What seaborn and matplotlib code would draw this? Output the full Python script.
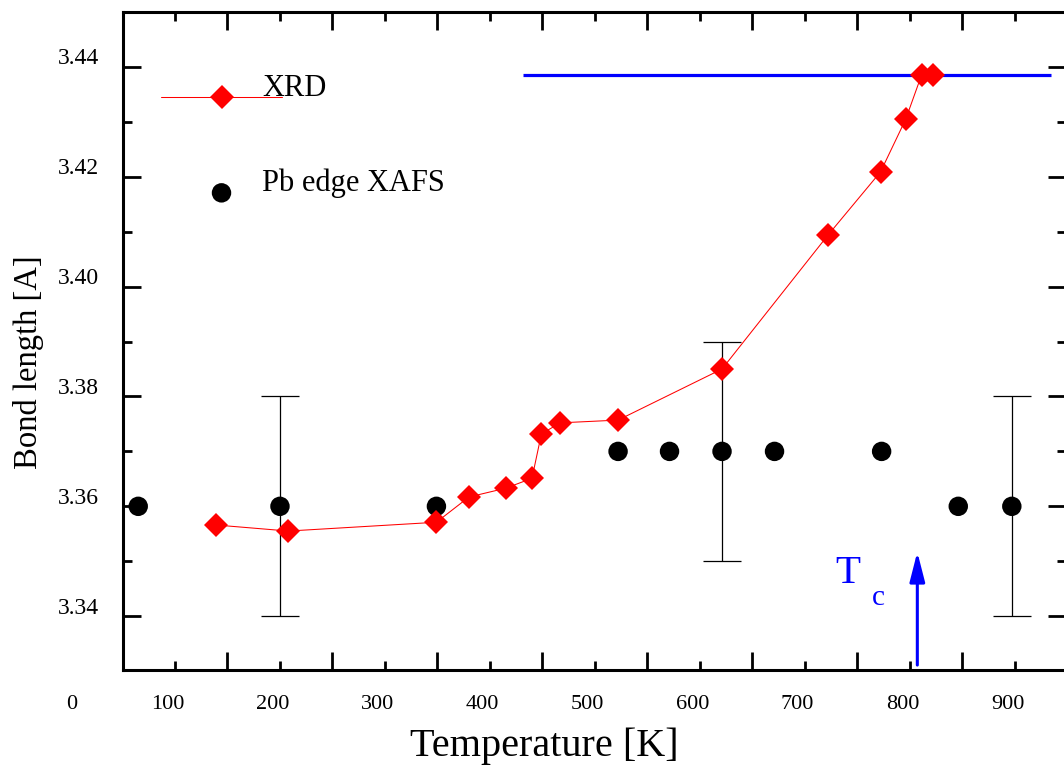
import matplotlib
matplotlib.use("Agg")
import numpy as np
import pandas as pd
import seaborn as sns
import matplotlib.pyplot as plt
from matplotlib.transforms import ScaledTranslation, blended_transform_factory
from matplotlib.legend_handler import HandlerLine2D

# ---------------- data ----------------
xrd_temp = [139, 208, 349, 380, 415, 440, 449, 467, 522, 621, 722, 772, 796, 811, 822]
xrd_bond = [3.3566, 3.3555, 3.3571, 3.3617, 3.3633, 3.3651, 3.3732, 3.3752,
            3.3757, 3.3850, 3.4094, 3.4209, 3.4305, 3.4385, 3.4385]

xafs_temp = [65, 200, 349, 522, 571, 621, 671, 773, 846, 897]
xafs_bond = [3.36, 3.36, 3.36, 3.37, 3.37, 3.37, 3.37, 3.37, 3.36, 3.36]

err_temp = [200, 621, 897]
err_bond = [3.36, 3.37, 3.36]
err_size = [0.02, 0.02, 0.02]

plateau_bond = 3.4385
plateau_start = 431
plateau_end = 934

tc_temp = 807
tc_arrow_bottom = 3.3311
tc_arrow_top = 3.3517

x_label_ticks = [100, 200, 300, 400, 500, 600, 700, 800, 900]
x_long_ticks = [150, 250, 350, 450, 550, 650, 750, 850]
y_major_ticks = [3.34, 3.36, 3.38, 3.40, 3.42, 3.44]
y_minor_ticks = [3.35, 3.37, 3.39, 3.41, 3.43]

xrd_df = pd.DataFrame({"T": xrd_temp, "d": xrd_bond})
xafs_df = pd.DataFrame({"T": xafs_temp, "d": xafs_bond})

# ---------------- style ----------------
sns.set_theme(style="ticks")
plt.rcParams["font.family"] = ["Liberation Serif", "DejaVu Serif"]
for k in ["text.color", "axes.labelcolor", "xtick.color", "ytick.color",
          "axes.edgecolor"]:
    plt.rcParams[k] = "black"

fig = plt.figure(figsize=(10.64, 7.78), dpi=100)
ax = fig.add_axes([123 / 1064, 108 / 778, 943 / 1064, 658 / 778])

RED = "#ff0000"
BLUE = "#0000ff"

# plateau line
ax.hlines(plateau_bond, plateau_start, plateau_end, color=BLUE, lw=2.3, zorder=2)

# error bars
ax.errorbar(err_temp, err_bond, yerr=err_size, fmt="none", ecolor="black",
            elinewidth=0.9, capsize=13.5, capthick=0.9, zorder=2)

# XRD
sns.lineplot(data=xrd_df, x="T", y="d", ax=ax, color=RED, lw=0.75,
             marker="D", markersize=12, markeredgewidth=0, sort=False,
             estimator=None, label="XRD", zorder=4)

# XAFS
sns.scatterplot(data=xafs_df, x="T", y="d", ax=ax, color="black", s=14 ** 2,
                marker="o", linewidth=0, edgecolor="none", label="Pb edge XAFS",
                zorder=3)

# Tc arrow and label
ax.annotate("", xy=(tc_temp, tc_arrow_top), xytext=(tc_temp, tc_arrow_bottom),
            arrowprops=dict(arrowstyle="-|>,head_length=0.9,head_width=0.23",
                            mutation_scale=20, color=BLUE, lw=2.2,
                            shrinkA=0, shrinkB=0), zorder=5)
ax.text(741, 3.3478, "T", color=BLUE, fontsize=29.5, ha="center", va="center")
ax.text(769.5, 3.3433, "c", color=BLUE, fontsize=21, ha="center", va="center")

# ---------------- axes ----------------
ax.set_xlim(50.5, 948.6)
ax.set_ylim(3.3302, 3.4500)

ax.set_xticks(x_long_ticks)
ax.set_xticklabels([])
ax.set_xticks(x_label_ticks, minor=True)
ax.set_xticklabels([str(v) for v in x_label_ticks], minor=True)
ax.set_yticks(y_major_ticks)
ax.set_yticklabels([f"{v:.2f}" for v in y_major_ticks])
ax.set_yticks(y_minor_ticks, minor=True)

for s in ax.spines.values():
    s.set_linewidth(2.2)
    s.set_color("black")

ax.tick_params(axis="both", which="both", direction="in", top=True, right=True,
               color="black", width=2.0, labelcolor="black")
ax.tick_params(axis="x", which="major", length=13, labelbottom=False)
ax.tick_params(axis="x", which="minor", length=6.5, labelsize=16, pad=18)
ax.tick_params(axis="y", which="major", length=13, labelsize=17, pad=17.3)
ax.tick_params(axis="y", which="minor", length=6.5)

# shifted tick labels (as in the reference)
dx = ScaledTranslation(-7.5 / 100, 0, fig.dpi_scale_trans)
for lab in ax.get_xticklabels(minor=True):
    lab.set_transform(lab.get_transform() + dx)
dy = ScaledTranslation(0, 10.5 / 100, fig.dpi_scale_trans)
for lab in ax.get_yticklabels():
    lab.set_transform(lab.get_transform() + dy)

# stray "0" label left of the axis
trans0 = blended_transform_factory(ax.transData, ax.transAxes) + \
    ScaledTranslation(2 / 100, -18 / 72, fig.dpi_scale_trans)
ax.text(0, 0, "0", transform=trans0, ha="center", va="top", fontsize=16,
        clip_on=False)

ax.set_xlabel("Temperature [K]", fontsize=29)
ax.xaxis.set_label_coords(0.4465, -0.088)
ax.xaxis.label.set_va("top")
ax.set_ylabel("Bond length [A]", fontsize=23.5)
ax.yaxis.set_label_coords(-0.0838, 0.468)


class ShiftedLine(HandlerLine2D):
    def create_artists(self, legend, orig_handle, xdescent, ydescent, width,
                       height, fontsize, trans):
        arts = super().create_artists(legend, orig_handle, xdescent, ydescent,
                                      width, height, fontsize, trans)
        for a in arts:
            a.set_ydata(np.asarray(a.get_ydata()) - 8.6)
        return arts


handles, labels = ax.get_legend_handles_labels()
ax.legend(handles, labels, loc="upper left", bbox_to_anchor=(0.0403, 0.906),
          borderaxespad=0, borderpad=0, frameon=False, fontsize=22,
          handlelength=3.96, handletextpad=-0.65, labelspacing=2.16,
          numpoints=1, scatterpoints=1, scatteryoffsets=[-0.07],
          handler_map={handles[0]: ShiftedLine()})

fig.savefig("out.png", dpi=100)
